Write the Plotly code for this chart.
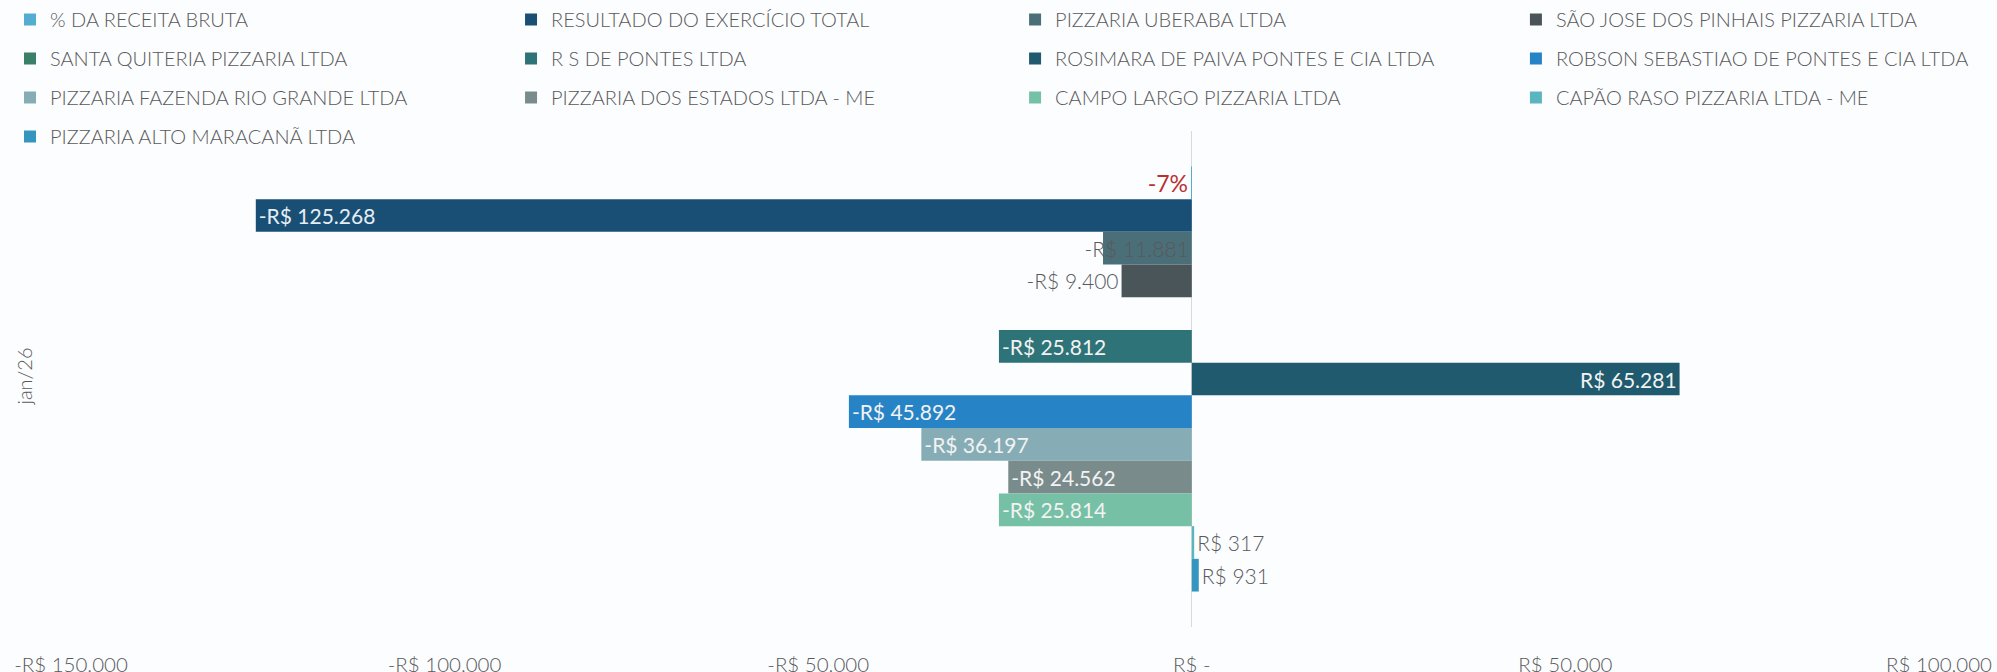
import plotly.graph_objects as go

# ---- data ----
category = ["jan/26"]
series_names = [
    "% DA RECEITA BRUTA",
    "RESULTADO DO EXERCÍCIO TOTAL",
    "PIZZARIA UBERABA LTDA",
    "SÃO JOSE DOS PINHAIS PIZZARIA LTDA",
    "SANTA QUITERIA PIZZARIA LTDA",
    "R S DE PONTES LTDA",
    "ROSIMARA DE PAIVA PONTES E CIA LTDA",
    "ROBSON SEBASTIAO DE PONTES E CIA LTDA",
    "PIZZARIA FAZENDA RIO GRANDE LTDA",
    "PIZZARIA DOS ESTADOS LTDA - ME",
    "CAMPO LARGO PIZZARIA LTDA",
    "CAPÃO RASO PIZZARIA LTDA - ME",
    "PIZZARIA ALTO MARACANÃ LTDA",
]
series_values = [-0.07, -125268, -11881, -9400, None, -25812, 65281,
                 -45892, -36197, -24562, -25814, 317, 931]
x_tick_values = [-150000, -100000, -50000, 0, 50000, 100000]
x_tick_labels = ["-R$ 150.000", "-R$ 100.000", "-R$ 50.000", "R$ -", "R$ 50.000", "R$ 100.000"]
x_range = [-150000, 100000]
pct_axis_range = [-150, 100]   # secondary (percentage) axis, same zero position

# ---- styles ----
colors = ["#54ACD0", "#194F75", "#4A6F78", "#4A5559", "#3A7F67", "#2E7377", "#1F5A6E",
          "#2683C6", "#86ADB6", "#7A8B8C", "#76C0A6", "#5BB5C0", "#3495BE"]
positions = ["outside", "inside", "inside", "outside", "none", "inside", "inside",
             "inside", "inside", "inside", "inside", "outside", "outside"]
anchors = ["end", "end", "start", "end", "end", "end", "end",
           "end", "end", "end", "end", "end", "end"]
text_colors = ["#B83232", "#E6EDF3", "#595959", "#595959", "#595959", "#F2F2F2", "#F2F2F2",
               "#F2F2F2", "#F2F2F2", "#F2F2F2", "#F2F2F2", "#595959", "#595959"]
text_weights = [400, 400, 300, 300, 300, 400, 400, 400, 400, 400, 400, 300, 300]
text_sizes = [23] + [21] * 12
legend_ids = ["legend", "legend2", "legend3", "legend4"] * 3 + ["legend"]

FONT = "Lato, 'Open Sans', sans-serif"
GRAY = "#595959"


def fmt(name, v):
    if v is None:
        return ""
    if name.startswith("%"):
        return f"{v * 100:.0f}%"
    s = f"{abs(v):,.0f}".replace(",", ".")
    return ("-" if v < 0 else "") + "R$ " + s


fig = go.Figure()
for i, name in enumerate(series_names):
    v = series_values[i]
    fig.add_trace(go.Bar(
        name=name,
        y=category,
        x=[v],
        orientation="h",
        xaxis="x2" if name.startswith("%") else "x",
        alignmentgroup="all",
        offsetgroup=name,
        marker=dict(color=colors[i], line=dict(width=0)),
        text=[fmt(name, v)],
        textposition=positions[i],
        insidetextanchor=anchors[i],
        textangle=0,
        constraintext="none",
        cliponaxis=False,
        textfont=dict(family=FONT, size=text_sizes[i], color=text_colors[i],
                      weight=text_weights[i]),
        legend=legend_ids[i],
        legendgroup=name,
        hoverinfo="name+x",
    ))

leg_common = dict(
    orientation="v", xref="container", yref="container",
    xanchor="left", yanchor="top", y=1.0,
    font=dict(family=FONT, size=20, color=GRAY, weight=300), bgcolor="rgba(0,0,0,0)",
    traceorder="grouped", tracegroupgap=10, itemwidth=30,
)
col_x = [0.005, 0.2559, 0.5083, 0.7591]

fig.update_layout(
    width=1997, height=672,
    paper_bgcolor="#FCFDFF", plot_bgcolor="#FCFDFF",
    margin=dict(l=71, r=58, t=131, b=45, autoexpand=False),
    barmode="group", bargap=0.143, bargroupgap=0,
    font=dict(family=FONT, size=20, color=GRAY),
    showlegend=True,
    legend=dict(leg_common, x=col_x[0]),
    legend2=dict(leg_common, x=col_x[1]),
    legend3=dict(leg_common, x=col_x[2]),
    legend4=dict(leg_common, x=col_x[3]),
    xaxis=dict(
        range=x_range, tickvals=x_tick_values, ticktext=x_tick_labels,
        showgrid=False, zeroline=True, zerolinecolor="#D9D9D9", zerolinewidth=1,
        showline=False, ticks="outside", ticklen=0, ticklabelstandoff=19,
        automargin=False, tickfont=dict(family=FONT, size=20.5, color=GRAY, weight=300),
    ),
    xaxis2=dict(range=pct_axis_range, overlaying="x", visible=False),
    yaxis=dict(
        autorange="reversed", showgrid=False, zeroline=False, showline=False,
        tickangle=-90, ticks="outside", ticklen=0, ticklabelstandoff=30,
        automargin=False, tickfont=dict(family=FONT, size=20, color=GRAY, weight=300),
    ),
)

fig.write_html("out.html", config={"displayModeBar": False},
               post_script="document.body.style.margin='0';")
